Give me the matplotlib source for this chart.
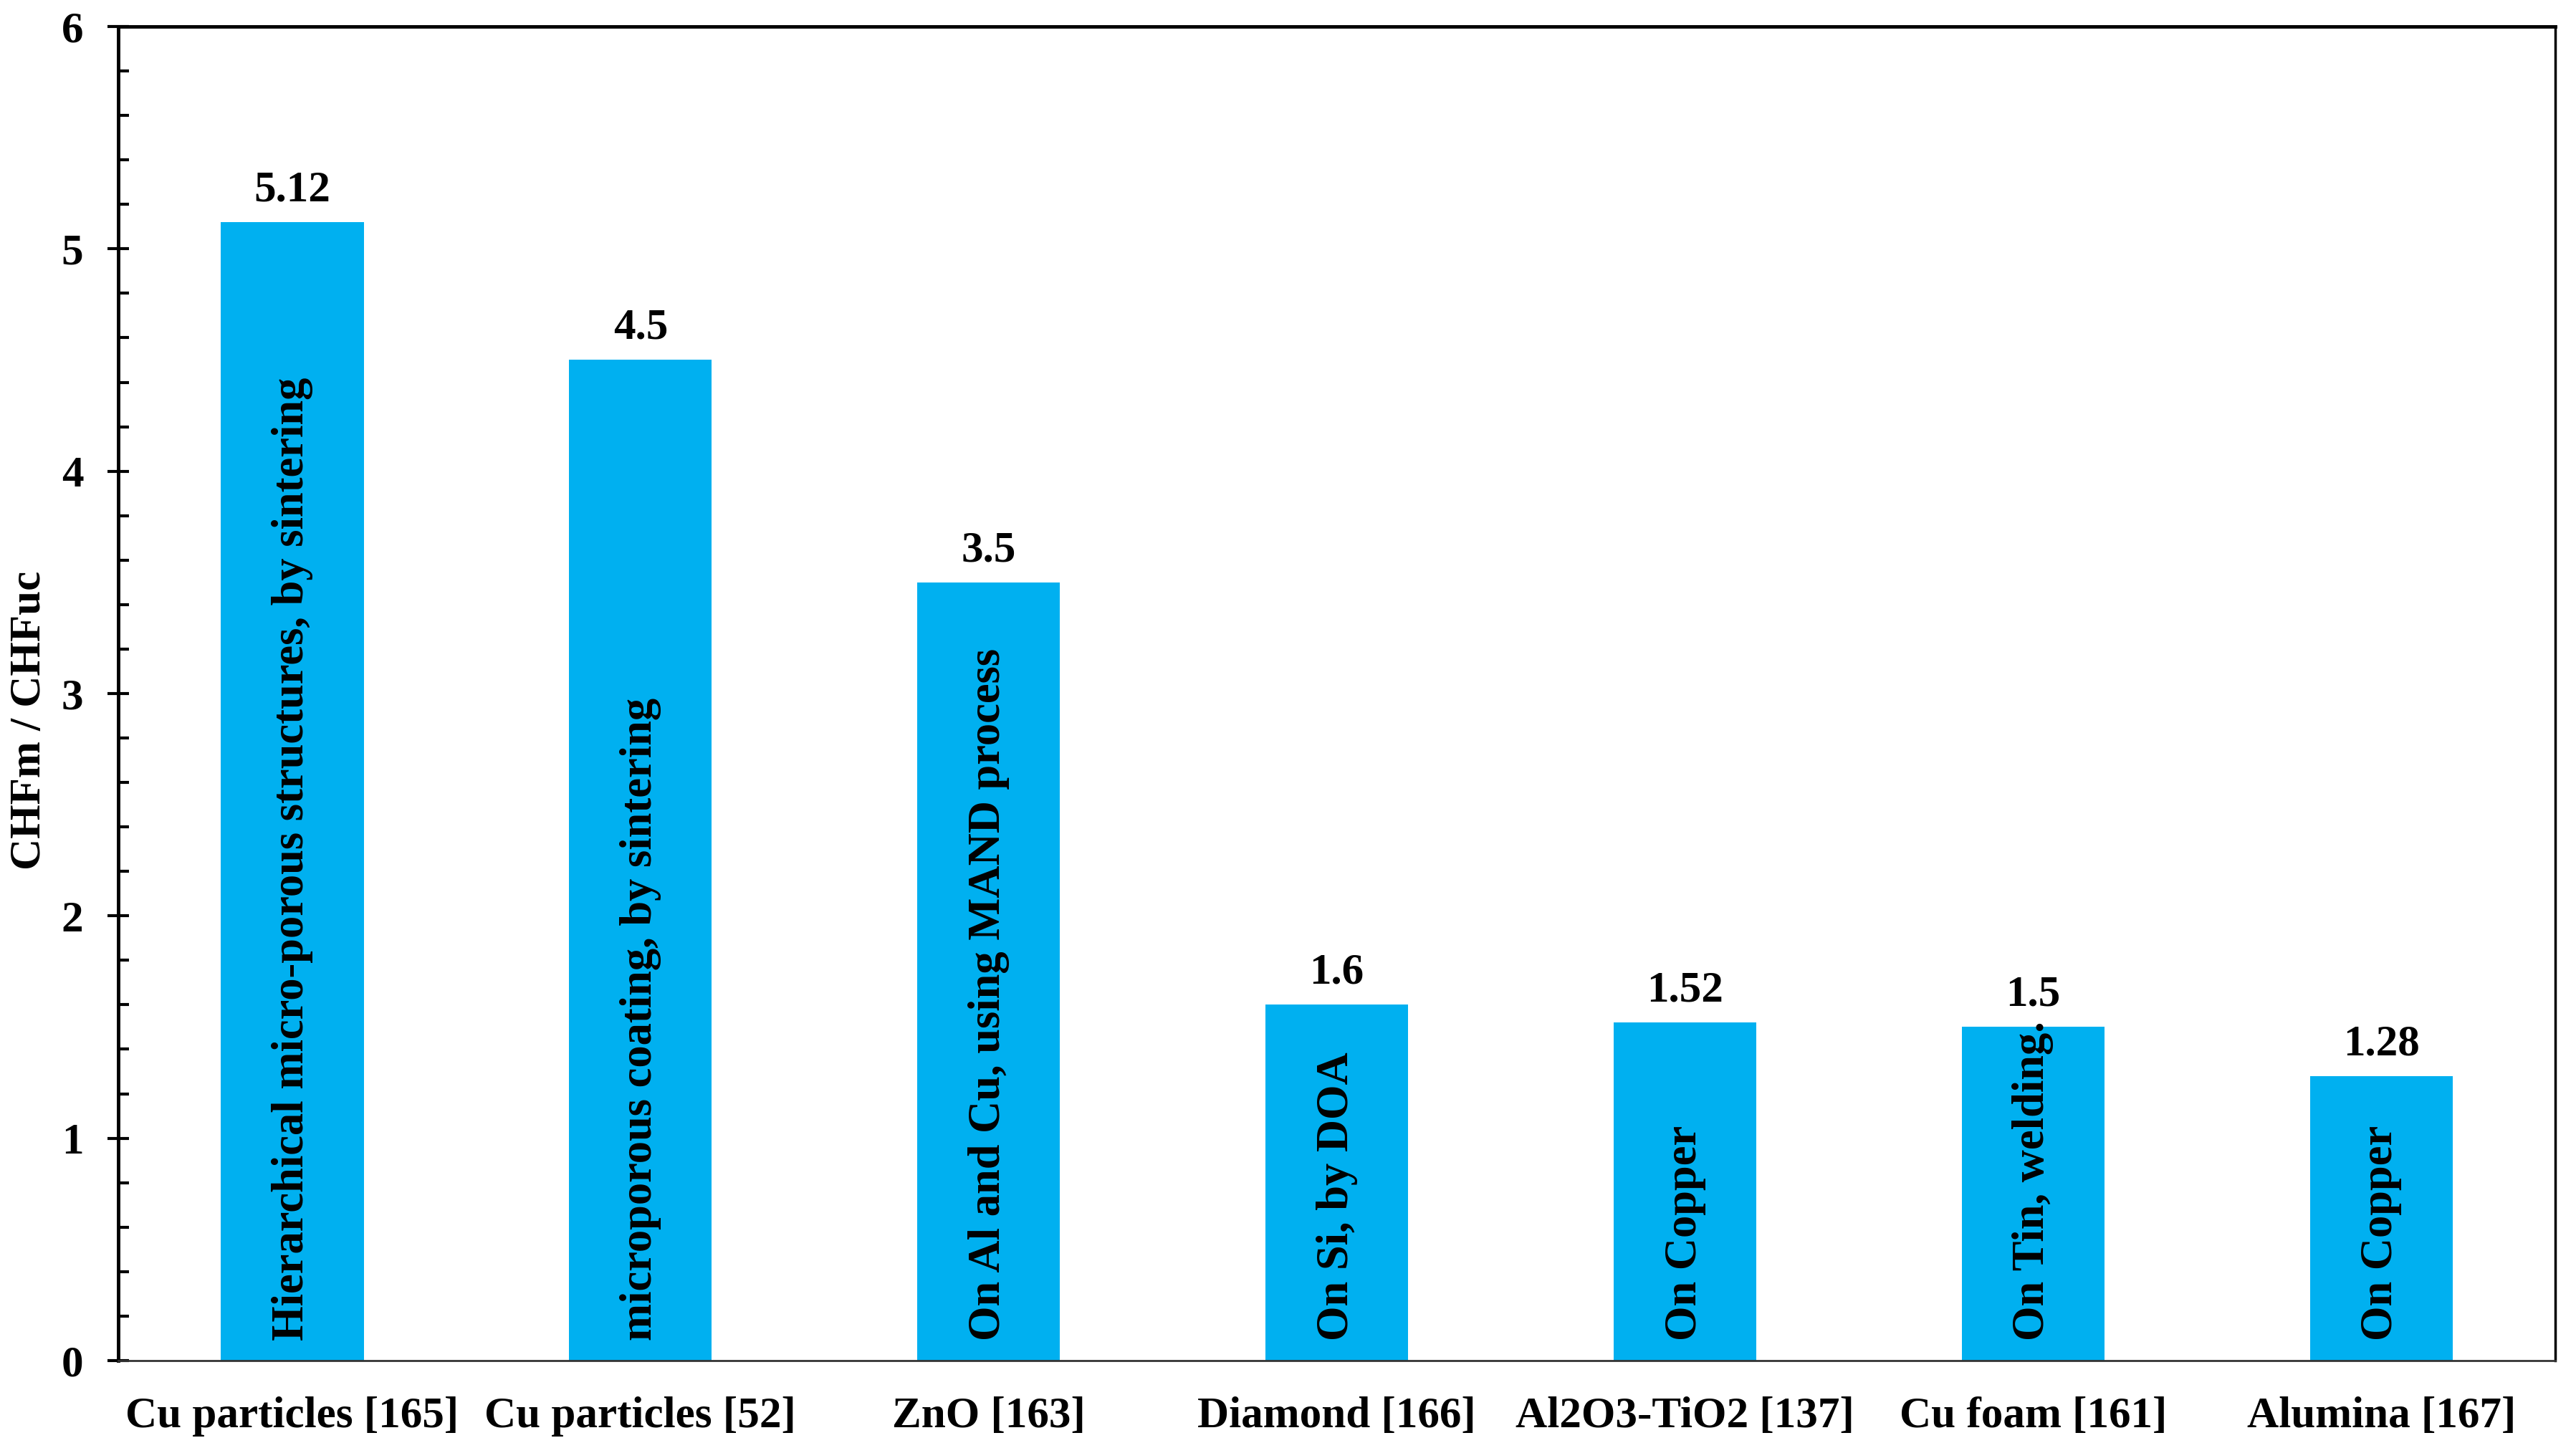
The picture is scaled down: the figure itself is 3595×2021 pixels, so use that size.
import matplotlib
matplotlib.use("Agg")
import matplotlib.pyplot as plt
from matplotlib.ticker import MultipleLocator

categories = ["Cu particles [165]", "Cu particles [52]", "ZnO [163]", "Diamond [166]",
              "Al2O3-TiO2 [137]", "Cu foam [161]", "Alumina [167]"]
values = [5.12, 4.5, 3.5, 1.6, 1.52, 1.5, 1.28]
value_labels = ["5.12", "4.5", "3.5", "1.6", "1.52", "1.5", "1.28"]
notes = ["Hierarchical micro-porous structures, by sintering",
         "microporous coating, by sintering",
         "On Al and Cu, using MAND process",
         "On Si, by DOA",
         "On Copper",
         "On Tin, welding.",
         "On Copper"]

plt.rcParams['font.family'] = ['Liberation Serif', 'DejaVu Serif']
plt.rcParams['font.weight'] = 'bold'

fig = plt.figure(figsize=(35.95, 20.21), dpi=100)
ax = fig.add_axes([0.0459, 0.0604, 0.9461, 0.9213])

x = list(range(len(categories)))
bars = ax.bar(x, values, width=0.41, color='#00B0F0', zorder=2)

fs = 44
for xi, v, lab, note in zip(x, values, value_labels, notes):
    ax.annotate(lab, (xi, v), xytext=(0, 12), textcoords='offset points',
                ha='center', va='bottom', fontsize=fs, fontweight='bold')
    ax.text(xi, 0.09, note, rotation=90, ha='center', va='bottom',
            fontsize=45, fontweight='bold')

ax.set_xlim(-0.5, 6.5)
ax.set_ylim(0, 6)
ax.set_xticks(x)
ax.set_xticklabels(categories, fontsize=fs, fontweight='bold')
ax.tick_params(axis='x', length=0, pad=36)
ax.yaxis.set_major_locator(MultipleLocator(1))
ax.yaxis.set_minor_locator(MultipleLocator(0.2))
ax.tick_params(axis='y', which='major', direction='inout', length=22, width=3,
               labelsize=fs, pad=24)
ax.tick_params(axis='y', which='minor', direction='in', length=11, width=3)
for lab in ax.get_yticklabels():
    lab.set_fontweight('bold')
ax.set_ylabel("CHFm / CHFuc", fontsize=fs, fontweight='bold',
              ha='center', va='center')
ax.yaxis.set_label_coords(-0.0365, 0.48)

ax.spines['left'].set_linewidth(3.5)
ax.spines['top'].set_linewidth(3.5)
ax.spines['right'].set_linewidth(2.5)
ax.spines['bottom'].set_linewidth(2)
ax.spines['bottom'].set_color('#333333')

fig.savefig("out.png", dpi=100)
